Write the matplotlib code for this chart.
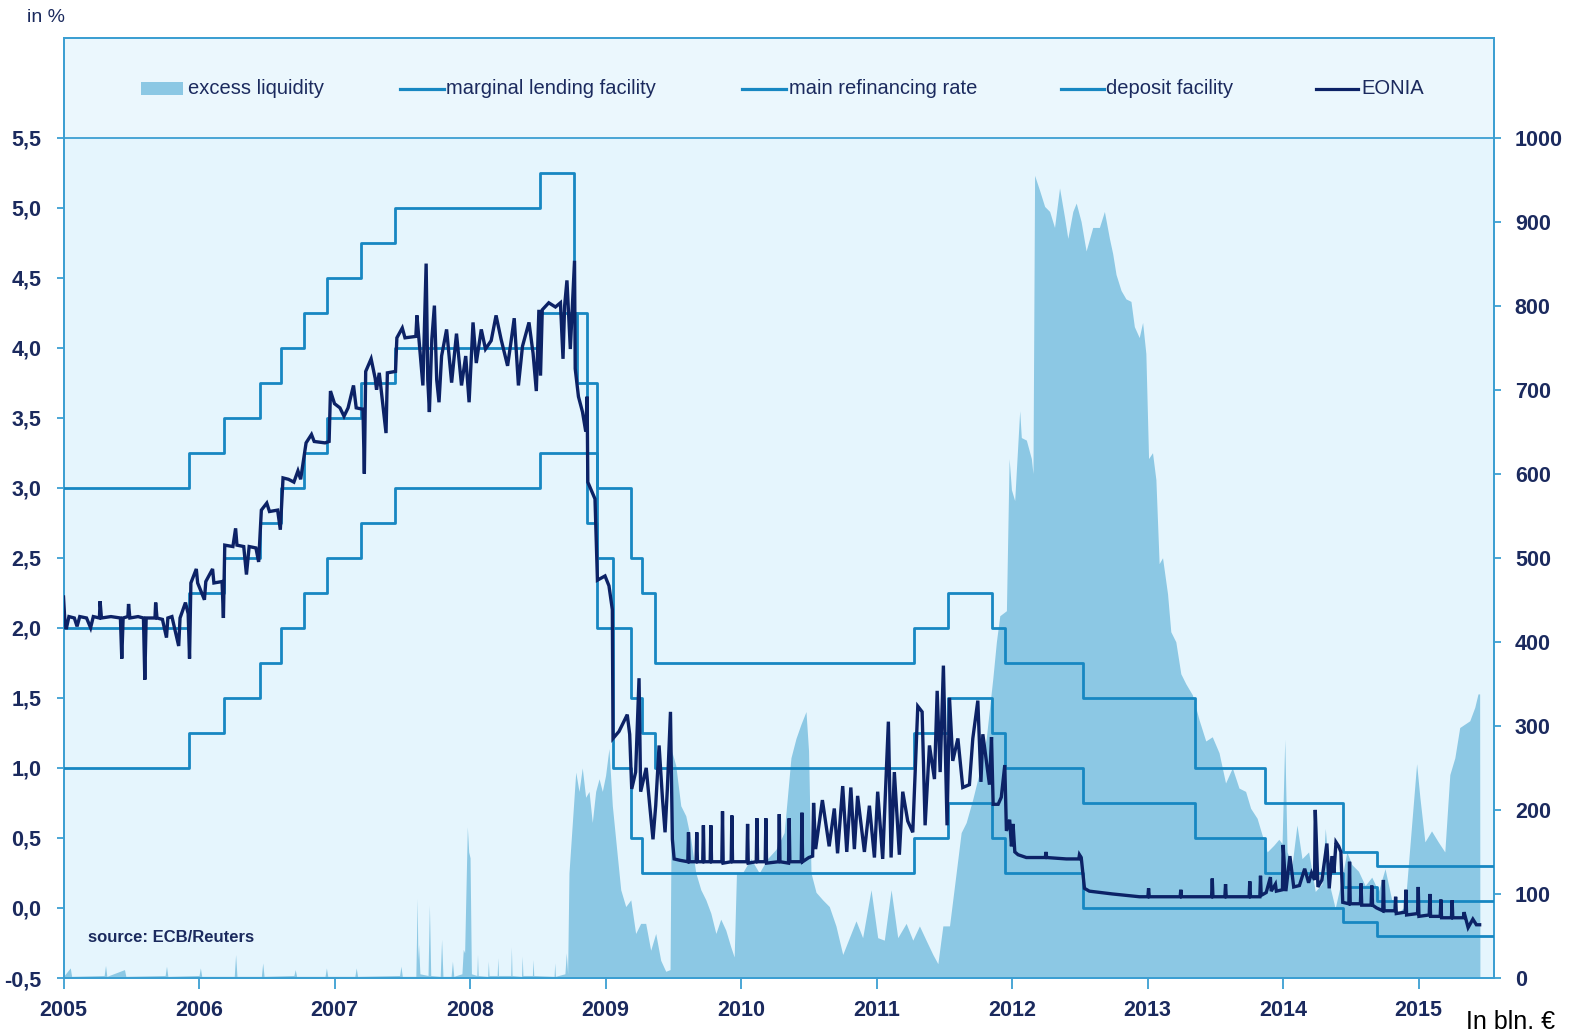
import matplotlib
matplotlib.use("Agg")
import matplotlib.pyplot as plt
from matplotlib.lines import Line2D
from matplotlib.patches import Rectangle
import pandas as pd

plt.rcParams['font.family'] = ['Liberation Sans', 'DejaVu Sans']

# ECB key rates (step changes), in %
rate_dates = ["2005-01-01", "2005-12-06", "2006-03-08", "2006-06-15", "2006-08-09",
              "2006-10-11", "2006-12-13", "2007-03-14", "2007-06-13", "2008-07-09",
              "2008-10-09", "2008-10-15", "2008-11-12", "2008-12-10", "2009-01-21",
              "2009-03-11", "2009-04-08", "2009-05-13", "2011-04-13", "2011-07-13",
              "2011-11-09", "2011-12-14", "2012-07-11", "2013-05-08", "2013-11-13",
              "2014-06-11", "2014-09-10", "2015-07-22"]
marginal_lending = [3.00, 3.25, 3.50, 3.75, 4.00, 4.25, 4.50, 4.75, 5.00, 5.25,
                    4.25, 4.25, 3.75, 3.00, 3.00, 2.50, 2.25, 1.75, 2.00, 2.25,
                    2.00, 1.75, 1.50, 1.00, 0.75, 0.40, 0.30, 0.30]
main_refi = [2.00, 2.25, 2.50, 2.75, 3.00, 3.25, 3.50, 3.75, 4.00, 4.25,
             4.25, 3.75, 3.25, 2.50, 2.00, 1.50, 1.25, 1.00, 1.25, 1.50,
             1.25, 1.00, 0.75, 0.50, 0.25, 0.15, 0.05, 0.05]
deposit = [1.00, 1.25, 1.50, 1.75, 2.00, 2.25, 2.50, 2.75, 3.00, 3.25,
           3.25, 3.25, 2.75, 2.00, 1.00, 0.50, 0.25, 0.25, 0.50, 0.75,
           0.50, 0.25, 0.00, 0.00, 0.00, -0.10, -0.20, -0.20]

# EONIA, (decimal year, %)
eonia = [
    (2005.00, 2.22), (2005.01, 2.05), (2005.02, 1.99), (2005.04, 2.08), (2005.08, 2.07),
    (2005.10, 2.01), (2005.12, 2.08), (2005.17, 2.07), (2005.20, 2.00), (2005.22, 2.08),
    (2005.265, 2.07), (2005.27, 2.19), (2005.28, 2.07), (2005.35, 2.08), (2005.42, 2.07),
    (2005.43, 1.78), (2005.44, 2.07), (2005.475, 2.08), (2005.48, 2.17), (2005.49, 2.07),
    (2005.55, 2.08), (2005.59, 2.07), (2005.60, 1.63), (2005.61, 2.07), (2005.675, 2.07),
    (2005.68, 2.18), (2005.69, 2.07), (2005.73, 2.06), (2005.76, 1.93), (2005.77, 2.07),
    (2005.80, 2.08), (2005.85, 1.87), (2005.86, 2.07), (2005.90, 2.18), (2005.92, 2.10),
    (2005.93, 1.78), (2005.94, 2.32), (2005.98, 2.42), (2005.99, 2.32), (2006.04, 2.20),
    (2006.05, 2.33), (2006.10, 2.42), (2006.11, 2.32), (2006.17, 2.33), (2006.18, 2.07),
    (2006.19, 2.59), (2006.25, 2.58), (2006.27, 2.71), (2006.28, 2.59), (2006.33, 2.58),
    (2006.35, 2.38), (2006.37, 2.58), (2006.42, 2.57), (2006.44, 2.47), (2006.46, 2.84),
    (2006.50, 2.89), (2006.52, 2.83), (2006.58, 2.84), (2006.60, 2.70), (2006.62, 3.07),
    (2006.66, 3.06), (2006.70, 3.04), (2006.73, 3.12), (2006.75, 3.06), (2006.79, 3.32),
    (2006.83, 3.38), (2006.85, 3.33), (2006.93, 3.32), (2006.96, 3.33), (2006.97, 3.69),
    (2007.00, 3.60), (2007.04, 3.57), (2007.07, 3.51), (2007.10, 3.57), (2007.14, 3.73),
    (2007.16, 3.57), (2007.21, 3.56), (2007.22, 3.10), (2007.23, 3.83), (2007.27, 3.92),
    (2007.30, 3.78), (2007.31, 3.70), (2007.33, 3.82), (2007.38, 3.39), (2007.39, 3.82),
    (2007.45, 3.83), (2007.46, 4.07), (2007.50, 4.14), (2007.52, 4.07), (2007.60, 4.08),
    (2007.608, 4.23), (2007.652, 3.73), (2007.676, 4.60), (2007.688, 3.77), (2007.70, 3.54),
    (2007.718, 4.06), (2007.737, 4.30), (2007.754, 3.77), (2007.771, 3.61), (2007.79, 3.94),
    (2007.827, 4.13), (2007.864, 3.75), (2007.90, 4.10), (2007.937, 3.73), (2007.968, 3.94),
    (2007.993, 3.61), (2008.022, 4.18), (2008.046, 3.89), (2008.083, 4.13), (2008.114, 3.99),
    (2008.156, 4.05), (2008.192, 4.23), (2008.229, 4.06), (2008.277, 3.87), (2008.302, 4.04),
    (2008.326, 4.21), (2008.357, 3.73), (2008.387, 4.01), (2008.435, 4.18), (2008.465, 3.96),
    (2008.489, 3.69), (2008.508, 4.27), (2008.52, 3.80), (2008.533, 4.27), (2008.581, 4.32),
    (2008.63, 4.29), (2008.667, 4.32), (2008.686, 3.92), (2008.698, 4.30), (2008.715, 4.48),
    (2008.74, 3.99), (2008.771, 4.62), (2008.776, 3.85), (2008.80, 3.65), (2008.83, 3.54),
    (2008.854, 3.40), (2008.864, 3.65), (2008.869, 3.04), (2008.922, 2.92), (2008.94, 2.34),
    (2008.996, 2.37), (2009.025, 2.30), (2009.05, 2.13), (2009.055, 1.21), (2009.099, 1.26),
    (2009.16, 1.38), (2009.178, 1.24), (2009.193, 0.85), (2009.222, 0.97), (2009.247, 1.64),
    (2009.259, 0.83), (2009.30, 1.00), (2009.326, 0.73), (2009.35, 0.49), (2009.37, 0.73),
    (2009.395, 1.16), (2009.42, 0.78), (2009.439, 0.54), (2009.456, 0.85), (2009.479, 1.40),
    (2009.493, 0.49), (2009.506, 0.35), (2009.55, 0.34), (2009.607, 0.33), (2009.612, 0.54),
    (2009.617, 0.33), (2009.668, 0.33), (2009.673, 0.54), (2009.678, 0.33), (2009.717, 0.33),
    (2009.722, 0.59), (2009.727, 0.33), (2009.772, 0.33), (2009.777, 0.59), (2009.782, 0.33),
    (2009.858, 0.33), (2009.863, 0.69), (2009.868, 0.32), (2009.927, 0.33), (2009.932, 0.66),
    (2009.937, 0.33), (2010.043, 0.33), (2010.048, 0.60), (2010.053, 0.32), (2010.112, 0.33),
    (2010.117, 0.64), (2010.122, 0.33), (2010.178, 0.33), (2010.183, 0.64), (2010.188, 0.32),
    (2010.277, 0.33), (2010.282, 0.67), (2010.287, 0.33), (2010.35, 0.32), (2010.355, 0.64),
    (2010.36, 0.33), (2010.444, 0.33), (2010.449, 0.68), (2010.454, 0.33), (2010.50, 0.36),
    (2010.528, 0.37), (2010.535, 0.75), (2010.55, 0.42), (2010.60, 0.77), (2010.65, 0.44),
    (2010.688, 0.71), (2010.712, 0.39), (2010.75, 0.87), (2010.78, 0.40), (2010.81, 0.86),
    (2010.836, 0.42), (2010.86, 0.80), (2010.91, 0.40), (2010.947, 0.73), (2010.984, 0.36),
    (2011.008, 0.83), (2011.045, 0.35), (2011.087, 1.33), (2011.107, 0.36), (2011.131, 0.97),
    (2011.168, 0.38), (2011.193, 0.83), (2011.23, 0.62), (2011.267, 0.54), (2011.304, 1.44),
    (2011.336, 1.40), (2011.358, 0.59), (2011.39, 1.16), (2011.427, 0.92), (2011.447, 1.55),
    (2011.469, 0.97), (2011.493, 1.73), (2011.52, 0.59), (2011.538, 1.50), (2011.562, 1.05),
    (2011.60, 1.21), (2011.636, 0.86), (2011.685, 0.88), (2011.71, 1.21), (2011.747, 1.48),
    (2011.77, 0.90), (2011.784, 1.24), (2011.833, 0.88), (2011.848, 1.22), (2011.86, 0.74),
    (2011.897, 0.74), (2011.92, 0.79), (2011.946, 1.02), (2011.958, 0.55), (2011.982, 0.63),
    (2011.995, 0.44), (2012.007, 0.60), (2012.02, 0.40), (2012.044, 0.38), (2012.105, 0.36),
    (2012.245, 0.36), (2012.25, 0.40), (2012.255, 0.36), (2012.40, 0.35), (2012.492, 0.35),
    (2012.497, 0.38), (2012.51, 0.36), (2012.534, 0.14), (2012.57, 0.12), (2012.74, 0.10),
    (2012.94, 0.08), (2013.002, 0.08), (2013.007, 0.14), (2013.012, 0.08), (2013.134, 0.08),
    (2013.24, 0.08), (2013.245, 0.13), (2013.25, 0.08), (2013.355, 0.08), (2013.472, 0.08),
    (2013.477, 0.21), (2013.482, 0.08), (2013.57, 0.08), (2013.575, 0.17), (2013.58, 0.08),
    (2013.674, 0.08), (2013.749, 0.08), (2013.754, 0.19), (2013.759, 0.08), (2013.828, 0.08),
    (2013.833, 0.23), (2013.838, 0.09), (2013.875, 0.11), (2013.906, 0.22), (2013.912, 0.12),
    (2013.943, 0.17), (2013.95, 0.12), (2013.995, 0.13), (2014.0, 0.45), (2014.02, 0.12),
    (2014.05, 0.37), (2014.078, 0.15), (2014.12, 0.16), (2014.159, 0.28), (2014.188, 0.18),
    (2014.21, 0.25), (2014.232, 0.20), (2014.237, 0.70), (2014.257, 0.15), (2014.286, 0.20),
    (2014.323, 0.46), (2014.34, 0.14), (2014.36, 0.37), (2014.375, 0.25), (2014.39, 0.47),
    (2014.41, 0.44), (2014.426, 0.40), (2014.44, 0.04), (2014.485, 0.03), (2014.49, 0.33),
    (2014.495, 0.03), (2014.57, 0.03), (2014.575, 0.175), (2014.58, 0.02), (2014.649, 0.02),
    (2014.654, 0.16), (2014.66, 0.02), (2014.69, 0.00), (2014.735, -0.02), (2014.74, 0.20),
    (2014.745, -0.02), (2014.825, -0.02), (2014.83, 0.08), (2014.835, -0.04), (2014.901, -0.03),
    (2014.906, 0.13), (2014.911, -0.05), (2014.992, -0.04), (2014.997, 0.15), (2015.002, -0.06),
    (2015.078, -0.05), (2015.083, 0.10), (2015.088, -0.06), (2015.159, -0.06), (2015.164, 0.06),
    (2015.169, -0.07), (2015.242, -0.07), (2015.247, 0.055), (2015.252, -0.07), (2015.33, -0.07),
    (2015.335, -0.03), (2015.365, -0.14), (2015.40, -0.08), (2015.426, -0.12), (2015.45, -0.12),
]

# excess liquidity, (decimal year, bln EUR)
excess = [
    (2005.00, 2), (2005.05, 12), (2005.06, 2), (2005.30, 3), (2005.31, 15), (2005.32, 2),
    (2005.45, 10), (2005.46, 2), (2005.75, 3), (2005.76, 14), (2005.77, 2), (2006.00, 3),
    (2006.01, 12), (2006.02, 2), (2006.26, 2), (2006.27, 28), (2006.28, 2), (2006.46, 2),
    (2006.47, 18), (2006.48, 2), (2006.70, 3), (2006.71, 10), (2006.72, 2), (2006.93, 2),
    (2006.94, 12), (2006.95, 2), (2007.15, 2), (2007.16, 12), (2007.17, 2), (2007.48, 3),
    (2007.49, 14), (2007.50, 2), (2007.60, 2), (2007.61, 95), (2007.615, 22), (2007.62, 40),
    (2007.63, 5), (2007.69, 3), (2007.70, 87), (2007.71, 3), (2007.78, 2), (2007.79, 46),
    (2007.80, 2), (2007.86, 2), (2007.87, 20), (2007.88, 2), (2007.94, 5), (2007.95, 34),
    (2007.96, 30), (2007.98, 180), (2007.99, 150), (2008.00, 143), (2008.01, 5), (2008.05, 3),
    (2008.055, 28), (2008.06, 3), (2008.13, 2), (2008.135, 20), (2008.14, 3), (2008.20, 3),
    (2008.205, 24), (2008.21, 3), (2008.30, 3), (2008.305, 37), (2008.31, 3), (2008.38, 2),
    (2008.385, 26), (2008.39, 3), (2008.46, 3), (2008.465, 22), (2008.47, 3), (2008.62, 2),
    (2008.625, 18), (2008.63, 2), (2008.70, 5), (2008.71, 30), (2008.72, 5), (2008.73, 125),
    (2008.755, 185), (2008.78, 245), (2008.804, 222), (2008.828, 250), (2008.853, 215),
    (2008.878, 222), (2008.902, 185), (2008.927, 222), (2008.952, 237), (2008.976, 222),
    (2009.0, 241), (2009.025, 273), (2009.05, 205), (2009.087, 145), (2009.112, 105),
    (2009.149, 85), (2009.186, 93), (2009.222, 53), (2009.259, 65), (2009.296, 65),
    (2009.333, 33), (2009.37, 53), (2009.407, 21), (2009.444, 8), (2009.476, 10),
    (2009.488, 270), (2009.518, 253), (2009.555, 205), (2009.592, 193), (2009.629, 165),
    (2009.666, 125), (2009.703, 105), (2009.74, 93), (2009.777, 77), (2009.814, 53),
    (2009.85, 70), (2009.887, 57), (2009.924, 37), (2009.949, 25), (2009.966, 125),
    (2010.01, 125), (2010.072, 142), (2010.134, 125), (2010.195, 142), (2010.257, 153),
    (2010.318, 173), (2010.368, 262), (2010.405, 285), (2010.442, 302), (2010.479, 317),
    (2010.498, 270), (2010.516, 125), (2010.553, 102), (2010.602, 93), (2010.651, 85),
    (2010.70, 62), (2010.75, 28), (2010.799, 48), (2010.848, 68), (2010.897, 48),
    (2010.959, 105), (2011.008, 48), (2011.057, 45), (2011.107, 105), (2011.156, 48),
    (2011.218, 65), (2011.267, 45), (2011.316, 62), (2011.365, 45), (2011.415, 28),
    (2011.452, 17), (2011.489, 62), (2011.538, 62), (2011.587, 125), (2011.624, 173),
    (2011.661, 185), (2011.71, 213), (2011.759, 245), (2011.809, 285), (2011.858, 357),
    (2011.884, 400), (2011.909, 431), (2011.958, 437), (2011.978, 618), (2011.995, 581),
    (2012.019, 568), (2012.056, 675), (2012.068, 643), (2012.105, 640), (2012.142, 618),
    (2012.154, 600), (2012.166, 955), (2012.203, 937), (2012.24, 918), (2012.277, 912),
    (2012.313, 893), (2012.35, 940), (2012.387, 905), (2012.411, 880), (2012.448, 912),
    (2012.473, 922), (2012.509, 900), (2012.546, 865), (2012.595, 893), (2012.644, 893),
    (2012.681, 912), (2012.718, 880), (2012.742, 862), (2012.767, 837), (2012.804, 818),
    (2012.84, 808), (2012.877, 805), (2012.902, 775), (2012.938, 762), (2012.963, 780),
    (2012.987, 743), (2013.007, 618), (2013.036, 625), (2013.061, 593), (2013.085, 493),
    (2013.11, 500), (2013.147, 457), (2013.171, 412), (2013.208, 400), (2013.245, 362),
    (2013.282, 350), (2013.33, 337), (2013.38, 307), (2013.429, 282), (2013.477, 287),
    (2013.527, 268), (2013.575, 232), (2013.625, 250), (2013.674, 226), (2013.723, 222),
    (2013.76, 202), (2013.808, 190), (2013.845, 170), (2013.882, 150), (2013.931, 158),
    (2013.968, 165), (2013.992, 160), (2014.012, 284), (2014.029, 150), (2014.066, 135),
    (2014.102, 182), (2014.139, 142), (2014.188, 150), (2014.237, 103), (2014.286, 112),
    (2014.311, 178), (2014.348, 107), (2014.384, 83), (2014.433, 118), (2014.47, 150),
    (2014.507, 135), (2014.556, 127), (2014.605, 110), (2014.654, 120), (2014.703, 103),
    (2014.752, 130), (2014.801, 93), (2014.85, 78), (2014.899, 85), (2014.948, 182),
    (2014.985, 255), (2015.009, 215), (2015.046, 162), (2015.095, 175), (2015.144, 162),
    (2015.193, 150), (2015.23, 242), (2015.267, 262), (2015.303, 298), (2015.34, 302),
    (2015.377, 306), (2015.414, 322), (2015.438, 338), (2015.45, 338), (2015.452, 0),
]

year_ticks = list(range(2005, 2016))
pct_ticks = [-0.5, 0.0, 0.5, 1.0, 1.5, 2.0, 2.5, 3.0, 3.5, 4.0, 4.5, 5.0, 5.5]
bln_ticks = list(range(0, 1001, 100))

legend_labels = ["excess liquidity", "marginal lending facility", "main refinancing rate",
                 "deposit facility", "EONIA"]

BG = "#e5f5fd"
BAND = "#ebf7fd"
FILL = "#8cc8e4"
RATE = "#1787c2"
EONIA_C = "#0c2266"
SPINE = "#3c9fd2"
TXT = "#1b2a5e"


def to_year(d):
    ts = pd.Timestamp(d)
    days = 366 if ts.is_leap_year else 365
    return ts.year + (ts.dayofyear - 1) / days


W, H = 1577, 1034
fig = plt.figure(figsize=(W / 100, H / 100), dpi=100)
left, right, top, bottom = 63.5, 1494, 37.5, 978
ax2 = fig.add_axes([left / W, 1 - bottom / H, (right - left) / W, (bottom - top) / H])
ax = ax2.twinx()
ax.set_zorder(ax2.get_zorder() + 1)
ax.patch.set_visible(False)
ax2.patch.set_facecolor(BG)

x0, x1 = 2005.0, 2015.556
ytop = 5.5 + (137.5 - top) / ((bottom - 137.5) / 6.0)
ax.set_xlim(x0, x1)
ax.set_ylim(-0.5, ytop)
ax2.set_ylim(0, (ytop + 0.5) / 0.006)

# excess liquidity on the bln scale (ax2 sits underneath)
ex_t = [p[0] for p in excess]
ex_v = [p[1] for p in excess]
ax2.fill_between(ex_t, 0, ex_v, color=FILL, lw=0, zorder=1)
ax2.axhspan(1000, ax2.get_ylim()[1], color=BAND, lw=0, zorder=2)

rd = [to_year(d) for d in rate_dates]
for series in (marginal_lending, main_refi, deposit):
    ax.step(rd, series, where="post", color=RATE, lw=2.0, zorder=3)

ax.plot([p[0] for p in eonia], [p[1] for p in eonia], color=EONIA_C, lw=2.4,
        zorder=4, solid_joinstyle="miter")
ax.axhline(5.5, color=SPINE, lw=1.3, zorder=5)

# % ticks on the left, bln ticks on the right
ax2.yaxis.tick_right()
ax.yaxis.tick_left()
ax.set_yticks(pct_ticks)
ax.set_yticklabels([f"{v:.1f}".replace(".", ",") for v in pct_ticks])
ax2.set_yticks(bln_ticks)
ax2.set_yticklabels([str(v) for v in bln_ticks])
ax2.set_xticks(year_ticks)
ax2.set_xticklabels([str(y) for y in year_ticks])
ax2.set_xlim(x0, x1)

for a in (ax, ax2):
    for s in a.spines.values():
        s.set_color(SPINE)
        s.set_linewidth(1.3)
ax.tick_params(axis="y", direction="out", length=5, width=1.3, color=SPINE,
               pad=11, labelsize=15.5, labelcolor=TXT)
ax2.tick_params(axis="y", direction="out", length=5, width=1.3, color=SPINE,
                pad=10, labelsize=15.5, labelcolor=TXT)
ax2.tick_params(axis="x", direction="out", length=8, width=1.3, color=SPINE,
                pad=8, labelsize=15.5, labelcolor=TXT)
for lab in ax.get_yticklabels() + ax2.get_yticklabels() + ax2.get_xticklabels():
    lab.set_fontweight("bold")

# legend inside the top band
ly = 1 - 88.5 / H
fig.add_artist(Rectangle((141 / W, 1 - 95 / H), 42 / W, 13 / H, transform=fig.transFigure,
                         color=FILL, lw=0, zorder=10))
fig.text(188 / W, ly, legend_labels[0], color=TXT, fontsize=14.5, va="center", ha="left",
         zorder=10)
for (lx0, lx1, tx), label, col in zip([(400, 444, 446), (742, 786, 789), (1061, 1104, 1106),
                                         (1316, 1358, 1361)],
                                        legend_labels[1:], [RATE, RATE, RATE, EONIA_C]):
    fig.add_artist(Line2D([lx0 / W, lx1 / W], [ly, ly], transform=fig.transFigure,
                          color=col, lw=2.3, zorder=10))
    fig.text(tx / W, ly, label, color=TXT, fontsize=14.5, va="center", ha="left", zorder=10)

fig.text(27 / W, 1 - 17 / H, "in %", color=TXT, fontsize=14, va="center", ha="left")
fig.text(87.5 / W, 1 - 937 / H, "source: ECB/Reuters", color=TXT, fontsize=12,
         fontweight="bold", va="center", ha="left", zorder=10)
fig.text(1466 / W, 1 - 1029 / H, "In bln. €", color="black", fontsize=18,
         va="baseline", ha="left")

fig.savefig("out.png", dpi=100, facecolor="white")
